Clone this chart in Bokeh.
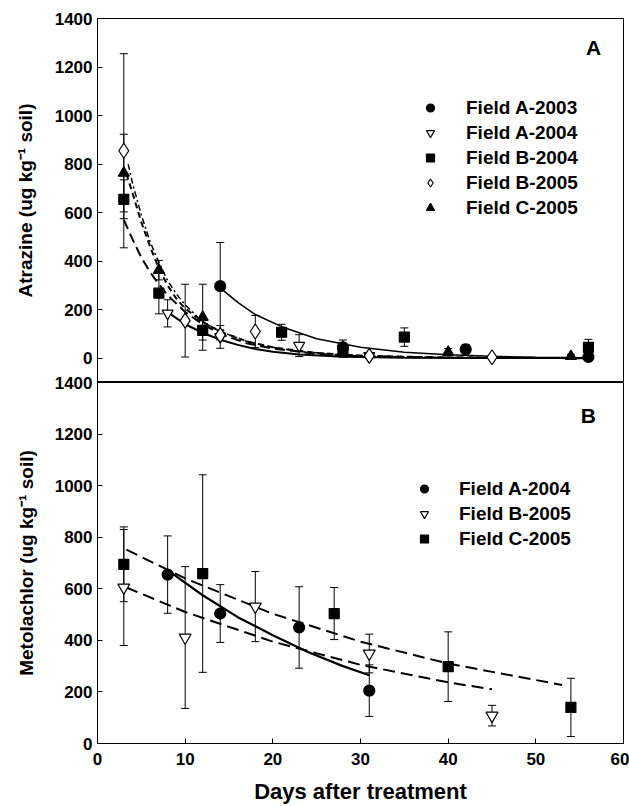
from bokeh.plotting import figure
from bokeh.models import (ColumnDataSource, Whisker, TeeHead, Legend, LegendItem,
                          Label, FixedTicker, Range1d)
from bokeh.layouts import column
from bokeh.embed import file_html
from bokeh.resources import INLINE

FONT = "Liberation Sans"

# ---------------- shared axis ticks ----------------
x_ticks = [0, 10, 20, 30, 40, 50, 60]
y_ticks = [0, 200, 400, 600, 800, 1000, 1200, 1400]

# ---------------- Panel A : Atrazine ----------------
a_names = ["Field A-2003", "Field A-2004", "Field B-2004", "Field B-2005", "Field C-2005"]

a03_day = [14, 28, 42, 56]
a03_val = [297, 45, 37, 5]
a03_err = [180, 30, 20, 8]

a04_day = [8, 14, 23, 31]
a04_val = [185, 88, 52, 10]
a04_err = [56, 47, 45, 8]

b04_day = [3, 7, 12, 21, 28, 35, 56]
b04_val = [655, 268, 115, 107, 30, 87, 45]
b04_err = [80, 85, 40, 33, 15, 38, 33]

b05_day = [3, 10, 14, 18, 31, 45]
b05_val = [855, 155, 95, 110, 10, 4]
b05_err = [400, 150, 20, 66, 10, 8]

c05_day = [3, 7, 12, 28, 40, 54]
c05_val = [763, 363, 169, 20, 25, 8]
c05_err = [160, 40, 136, 15, 15, 8]

# fitted decay curves
a03_fit_day = [14, 16, 18, 21, 25, 30, 35, 40, 45, 50, 56]
a03_fit_val = [290, 230, 180, 130, 80, 45, 25, 14, 8, 4, 2]
a04_fit_day = [8, 10, 12, 14, 16, 18, 20, 23, 28, 35, 45, 56]
a04_fit_val = [190, 140, 105, 76, 55, 38, 27, 15, 6, 2, 1, 0.5]
b04_fit_day = [3, 4, 5, 6, 7, 8, 10, 12, 14, 17, 20, 25, 30, 40, 56]
b04_fit_val = [570, 490, 415, 355, 305, 260, 190, 140, 100, 62, 40, 18, 8, 2, 0.2]
b05_fit_day = [3.5, 4, 5, 6, 7, 8, 9, 10, 12, 14, 17, 20, 23, 28, 35, 45, 56]
b05_fit_val = [800, 720, 590, 480, 395, 320, 265, 220, 150, 110, 70, 45, 28, 14, 5, 1.5, 0.5]
c05_fit_day = [3.3, 4, 5, 6, 7, 8, 9, 10, 12, 14, 17, 20, 25, 30, 40, 56]
c05_fit_val = [760, 680, 560, 460, 370, 300, 245, 205, 150, 110, 70, 45, 22, 10, 3, 0.5]

# ---------------- Panel B : Metolachlor ----------------
b_names = ["Field A-2004", "Field B-2005", "Field C-2005"]

mA04_day = [8, 14, 23, 31]
mA04_val = [655, 504, 450, 205]
mA04_err = [150, 112, 158, 100]

mB05_day = [3, 10, 18, 31, 45]
mB05_val = [605, 411, 531, 349, 108]
mB05_err = [225, 275, 136, 75, 40]

mC05_day = [3, 12, 27, 40, 54]
mC05_val = [695, 659, 504, 298, 140]
mC05_err = [145, 383, 101, 135, 113]

mA04_fit_day = [8.5, 12, 16, 20, 24, 28, 31]
mA04_fit_val = [660, 575, 490, 420, 355, 300, 265]
mB05_fit_day = [3.3, 10, 20, 30, 40, 45]
mB05_fit_val = [605, 510, 395, 305, 237, 210]
mC05_fit_day = [3.3, 10, 20, 30, 40, 53]
mC05_fit_val = [752, 640, 503, 395, 310, 227]


def style_axis(ax, size="17px"):
    ax.major_tick_in = 5
    ax.major_tick_out = 0
    ax.minor_tick_in = 0
    ax.minor_tick_out = 0
    ax.axis_line_color = "black"
    ax.major_tick_line_color = "black"
    ax.major_label_text_font = FONT
    ax.major_label_text_font_style = "bold"
    ax.major_label_text_color = "black"
    ax.major_label_text_font_size = size
    ax.axis_label_text_font = FONT
    ax.axis_label_text_font_style = "bold"
    ax.axis_label_text_color = "black"


def add_series(p, day, val, err, marker, fill, size):
    upper = [v + e for v, e in zip(val, err)]
    lower = [v - e for v, e in zip(val, err)]
    src = ColumnDataSource(dict(x=day, y=val, upper=upper, lower=lower))
    w = Whisker(base="x", upper="upper", lower="lower", source=src,
                line_color="black", line_width=1,
                upper_head=TeeHead(size=8, line_color="black", line_width=1),
                lower_head=TeeHead(size=8, line_color="black", line_width=1),
                level="underlay")
    p.add_layout(w)
    r = p.scatter("x", "y", source=src, marker=marker, size=size,
                  fill_color=fill, line_color="black", line_width=1.2)
    return r


def add_fit(p, day, val, dash, width):
    p.line(day, val, line_color="black", line_width=width, line_dash=dash)


def make_legend(names, renderers, loc, standoff):
    return Legend(items=[LegendItem(label=n, renderers=[r]) for n, r in zip(names, renderers)],
                  location=loc, orientation="vertical",
                  border_line_alpha=0, background_fill_alpha=0,
                  label_text_font=FONT, label_text_font_style="bold",
                  label_text_font_size="19px", label_text_color="black",
                  glyph_width=20, glyph_height=25, label_height=25, label_standoff=standoff,
                  spacing=0, padding=0, margin=0)


# ================= top figure =================
p1 = figure(width=629, height=382, x_range=Range1d(0, 60), y_range=Range1d(-100, 1400),
            x_axis_location=None, output_backend="svg", toolbar_location=None,
            min_border_left=97, min_border_right=6, min_border_top=18, min_border_bottom=0)
p1.grid.visible = False
p1.outline_line_color = "black"
p1.yaxis.ticker = FixedTicker(ticks=y_ticks)
style_axis(p1.yaxis[0])
p1.yaxis.axis_label = "Atrazine (ug kg⁻¹ soil)"
p1.yaxis.axis_label_text_font_size = "19px"
p1.yaxis.major_label_standoff = 5
p1.yaxis.axis_label_standoff = 16

add_fit(p1, a03_fit_day, a03_fit_val, "solid", 1.5)
add_fit(p1, a04_fit_day, a04_fit_val, "solid", 2)
add_fit(p1, b04_fit_day, b04_fit_val, "10 5", 2)
add_fit(p1, b05_fit_day, b05_fit_val, "6 3 2 3", 1.5)
add_fit(p1, c05_fit_day, c05_fit_val, "6 4", 2)

ra = [
    add_series(p1, a03_day, a03_val, a03_err, "circle", "black", 11),
    add_series(p1, a04_day, a04_val, a04_err, "inverted_triangle", "white", 11),
    add_series(p1, b04_day, b04_val, b04_err, "square", "black", 10),
    add_series(p1, b05_day, b05_val, b05_err, "diamond", "white", 15),
    add_series(p1, c05_day, c05_val, c05_err, "triangle", "black", 11),
]
p1.add_layout(make_legend(a_names, ra, (323, 162), 26))
p1.add_layout(Label(x=56.6, y=1281, text="A", text_font=FONT, text_font_style="bold",
                    text_color="black",
                    text_font_size="21px", text_align="center", text_baseline="middle"))

# ================= bottom figure =================
p2 = figure(width=629, height=434, x_range=Range1d(0, 60), y_range=Range1d(0, 1400),
            output_backend="svg", toolbar_location=None,
            min_border_left=97, min_border_right=6, min_border_top=10, min_border_bottom=63)
p2.margin = (-10, 0, 0, 0)
p2.border_fill_alpha = 0
p2.grid.visible = False
p2.outline_line_color = "black"
p2.xaxis.ticker = FixedTicker(ticks=x_ticks)
p2.yaxis.ticker = FixedTicker(ticks=y_ticks)
style_axis(p2.xaxis[0])
style_axis(p2.yaxis[0])
p2.xaxis.axis_label = "Days after treatment"
p2.xaxis.axis_label_text_font_size = "22px"
p2.xaxis.major_label_standoff = 9
p2.xaxis.axis_label_standoff = 11
p2.yaxis.axis_label = "Metolachlor (ug kg⁻¹ soil)"
p2.yaxis.axis_label_text_font_size = "19px"
p2.yaxis.major_label_standoff = 5
p2.yaxis.axis_label_standoff = 15

add_fit(p2, mA04_fit_day, mA04_fit_val, "solid", 2.2)
add_fit(p2, mB05_fit_day, mB05_fit_val, "12 6", 2)
add_fit(p2, mC05_fit_day, mC05_fit_val, "12 6", 2)

rb = [
    add_series(p2, mA04_day, mA04_val, mA04_err, "circle", "black", 11),
    add_series(p2, mB05_day, mB05_val, mB05_err, "inverted_triangle", "white", 12),
    add_series(p2, mC05_day, mC05_val, mC05_err, "square", "black", 10),
]
p2.add_layout(make_legend(b_names, rb, (317, 192), 25))
p2.add_layout(Label(x=56.0, y=1272, text="B", text_font=FONT, text_font_style="bold",
                    text_color="black",
                    text_font_size="21px", text_align="center", text_baseline="middle"))

layout = column(p1, p2)
open("out.html", "w").write(file_html(layout, INLINE))
